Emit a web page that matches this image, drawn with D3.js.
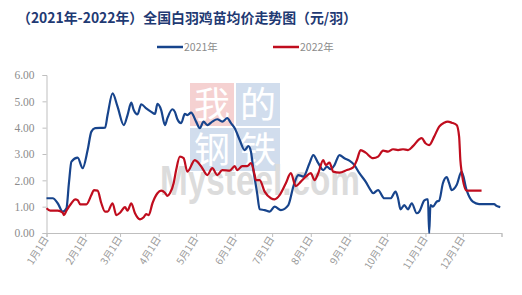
<!DOCTYPE html>
<html>
<head>
<meta charset="utf-8">
<script src="https://cdn.jsdelivr.net/npm/d3@7"></script>
<style>
  body { margin: 0; background: #fff; }
  svg { display: block; }
</style>
</head>
<body>
<div id="chart"></div>
<script>
// chart title and legend names
var title = "（2021年-2022年）全国白羽鸡苗均价走势图（元/羽）";
var seriesNames = ["2021年", "2022年"];

// month tick labels
var monthLabels = ["1月1日", "2月1日", "3月1日", "4月1日", "5月1日", "6月1日",
    "7月1日", "8月1日", "9月1日", "10月1日", "11月1日", "12月1日"];
var yTicks = [0, 1, 2, 3, 4, 5, 6];

// 2021 series (month-day, price)
var dates2021 = ["01-01", "01-06", "01-10", "01-14", "01-17", "01-19", "01-21", "01-26", "01-30",
    "02-03", "02-06", "02-09", "02-17", "02-19", "02-23", "02-27", "03-04", "03-07", "03-10",
    "03-12", "03-15", "03-18", "03-22", "03-26", "03-29", "03-31", "04-03", "04-06", "04-08",
    "04-12", "04-14", "04-16", "04-19", "04-22", "04-24", "04-27", "05-01", "05-04", "05-07",
    "05-10", "05-14", "05-18", "05-22", "05-26", "05-29", "06-01", "06-05", "06-09", "06-12",
    "06-14", "06-16", "06-19", "06-21", "06-25", "06-29", "07-03", "07-08", "07-14", "07-18",
    "07-22", "07-26", "07-31", "08-03", "08-07", "08-11", "08-14", "08-17", "08-20", "08-24",
    "08-28", "09-01", "09-05", "09-09", "09-14", "09-18", "09-20", "09-24", "09-29", "10-04",
    "10-08", "10-10", "10-12", "10-15", "10-18", "10-21", "10-25", "10-27", "10-31", "11-02",
    "11-03", "11-04", "11-05", "11-07", "11-10", "11-12", "11-15", "11-18", "11-20", "11-22",
    "11-26", "11-30", "12-04", "12-09", "12-14", "12-26", "12-28", "12-31"];
var values2021 = [1.32, 1.32, 1.13, 0.81, 0.94, 1.9, 2.71, 2.86, 2.46,
    3.15, 3.85, 3.98, 4.0, 4.48, 5.3, 4.8, 4.1, 4.48, 4.95,
    4.67, 4.5, 4.89, 4.73, 4.6, 4.52, 4.9, 4.67, 4.1, 4.36,
    4.7, 4.6, 4.32, 4.17, 4.52, 4.48, 4.57, 4.23, 3.98, 4.23,
    4.1, 4.23, 4.32, 4.23, 4.36, 4.17, 3.98, 3.53, 3.15, 3.3,
    3.09, 2.39, 1.5, 0.9, 0.87, 0.81, 1.0, 0.87, 1.06, 1.76,
    2.2, 2.14, 2.65, 2.96, 2.65, 2.39, 2.52, 2.42, 2.58, 2.96,
    2.84, 2.75, 2.58, 2.27, 1.95, 1.63, 1.51, 1.63, 1.32, 1.32,
    1.57, 1.32, 0.9, 1.06, 0.9, 1.13, 0.75, 0.81, 1.23, 1.28,
    1.28, 0, 1.06, 1.0, 1.19, 1.23, 1.89, 2.12, 1.89, 1.63,
    1.82, 2.33, 1.63, 1.19, 1.1, 1.1, 1.03, 0.98];

// 2022 series (month-day, price)
var dates2022 = ["01-01", "01-04", "01-10", "01-14", "01-15", "01-17", "01-21", "01-24", "01-26",
    "01-28", "02-02", "02-06", "02-08", "02-11", "02-14", "02-17", "02-19", "02-23", "02-26",
    "03-01", "03-05", "03-07", "03-10", "03-13", "03-17", "03-20", "03-22", "03-24", "03-27",
    "03-31", "04-03", "04-06", "04-08", "04-10", "04-13", "04-15", "04-18", "04-21", "04-24",
    "04-30", "05-02", "05-06", "05-10", "05-14", "05-18", "05-22", "05-28", "06-01", "06-03",
    "06-07", "06-11", "06-14", "06-17", "06-18", "06-21", "06-25", "06-30", "07-03", "07-07",
    "07-12", "07-16", "07-20", "07-24", "07-28", "08-01", "08-04", "08-07", "08-11", "08-13",
    "08-16", "08-19", "08-24", "08-30", "09-04", "09-07", "09-10", "09-14", "09-20", "09-24",
    "09-28", "10-02", "10-06", "10-10", "10-14", "10-18", "10-22", "10-27", "10-29", "11-01",
    "11-04", "11-08", "11-12", "11-16", "11-19", "11-22", "11-26", "11-28", "11-29", "11-30",
    "12-04", "12-16"];
var values2022 = [0.94, 0.85, 0.85, 0.77, 0.68, 0.85, 1.13, 1.28, 1.25,
    1.09, 1.09, 1.44, 1.63, 1.61, 1.13, 0.81, 0.81, 1.13, 0.68,
    0.77, 0.98, 0.85, 1.13, 0.75, 0.52, 0.6, 0.72, 0.68, 1.13,
    1.51, 1.61, 1.53, 1.41, 1.51, 1.89, 2.39, 2.9, 2.84, 2.33,
    2.77, 2.71, 2.46, 2.2, 2.46, 2.2, 2.39, 2.37, 2.54, 2.39,
    2.54, 2.54, 2.65, 2.2, 2.01, 2.01, 1.57, 1.32, 1.28, 1.44,
    1.89, 2.27, 1.78, 1.95, 2.14, 2.27, 2.01, 2.27, 2.77, 2.58,
    2.67, 2.33, 2.29, 2.39, 2.49, 2.77, 3.15, 3.05, 2.84, 2.9,
    3.13, 3.09, 3.18, 3.15, 3.18, 3.15, 3.3, 3.56, 3.6, 3.41,
    3.34, 3.66, 4.04, 4.19, 4.23, 4.19, 4.1, 3.66, 2.77, 2.33,
    1.61, 1.61];

var colors = ["#17448c", "#c00d1e"];

var width = 522, height = 295,
    plotLeft = 46.5, plotRight = 501.5, plotTop = 75, plotBottom = 233;

var svg = d3.select("#chart").append("svg")
    .attr("width", width).attr("height", height);

var parse = d3.timeParse("%Y-%m-%d");
function toDate(md) { return parse("2021-" + md); }

var x = d3.scaleTime()
    .domain([parse("2021-01-01"), parse("2022-01-01")])
    .range([plotLeft, plotRight]);
var y = d3.scaleLinear().domain([0, 6]).range([plotBottom, plotTop]);

// watermark
var wm = svg.append("g").attr("class", "watermark");
var blocks = [
    { ch: "我", col: 0, row: 0, bg: "#f3c9c9" },
    { ch: "的", col: 1, row: 0, bg: "#c9d7ea" },
    { ch: "钢", col: 0, row: 1, bg: "#c9d7ea" },
    { ch: "铁", col: 1, row: 1, bg: "#c9d7ea" }
];
wm.selectAll("rect").data(blocks).enter().append("rect")
    .attr("x", function (d) { return 190 + d.col * 46; })
    .attr("y", function (d) { return 83 + d.row * 45; })
    .attr("width", 44).attr("height", 43)
    .attr("fill", function (d) { return d.bg; })
    .attr("opacity", 0.85);
wm.selectAll("text.ch").data(blocks).enter().append("text")
    .attr("class", "ch")
    .attr("x", function (d) { return 212 + d.col * 46; })
    .attr("y", function (d) { return 118 + d.row * 45; })
    .attr("text-anchor", "middle")
    .style("font-family", "'Noto Sans CJK SC', sans-serif")
    .style("font-size", "36px")
    .style("fill", "#fff")
    .text(function (d) { return d.ch; });
wm.append("text")
    .attr("x", 160).attr("y", 195)
    .attr("textLength", 200).attr("lengthAdjust", "spacingAndGlyphs")
    .style("font-family", "'Liberation Sans', Arial, sans-serif")
    .style("font-weight", "bold")
    .style("font-size", "42px")
    .style("fill", "#dcdcdc")
    .text("Mysteel.com");

// title
svg.append("text")
    .attr("x", 17).attr("y", 23)
    .attr("textLength", 340).attr("lengthAdjust", "spacingAndGlyphs")
    .style("font-family", "'Noto Sans CJK SC', sans-serif")
    .style("font-weight", "bold")
    .style("font-size", "14px")
    .style("fill", "#1f3a73")
    .text(title);

// legend
var legend = svg.append("g");
var legendX = [157, 273];
seriesNames.forEach(function (name, i) {
    legend.append("line")
        .attr("x1", legendX[i]).attr("x2", legendX[i] + 26)
        .attr("y1", 47).attr("y2", 47)
        .attr("stroke", colors[i]).attr("stroke-width", 2.5);
    legend.append("text")
        .attr("x", legendX[i] + 27).attr("y", 51)
        .style("font-family", "'Noto Sans CJK SC', sans-serif")
        .style("font-size", "10.5px")
        .style("fill", "#8c8c8c")
        .text(name);
});

// y axis
var yAxis = svg.append("g")
    .attr("transform", "translate(" + plotLeft + ",0)")
    .call(d3.axisLeft(y).tickValues(yTicks).tickFormat(d3.format(".2f")).tickSize(4).tickPadding(8));
yAxis.select(".domain").attr("stroke", "#bfbfbf");
yAxis.selectAll(".tick line").attr("stroke", "#bfbfbf");
yAxis.selectAll("text")
    .style("font-family", "'Liberation Serif', 'DejaVu Serif', serif")
    .style("font-size", "11.5px")
    .style("fill", "#8c8c8c");

// x axis
var monthTicks = d3.timeMonth.range(parse("2021-01-01"), parse("2022-01-02"));
var xAxis = svg.append("g")
    .attr("transform", "translate(0," + plotBottom + ")")
    .call(d3.axisBottom(x).tickValues(monthTicks).tickSize(4)
        .tickFormat(function (d, i) { return monthLabels[i] || ""; }));
xAxis.select(".domain").attr("stroke", "#bfbfbf");
xAxis.selectAll(".tick line").attr("stroke", "#bfbfbf");
xAxis.selectAll("text")
    .style("font-family", "'Noto Sans CJK SC', sans-serif")
    .style("font-size", "10px")
    .style("fill", "#9a9a9a")
    .attr("text-anchor", "end")
    .attr("dy", null)
    .attr("y", 0)
    .attr("transform", "translate(2,6) rotate(-58)");

// lines
var line = d3.line()
    .x(function (d) { return x(d.date); })
    .y(function (d) { return y(d.value); })
    .curve(d3.curveMonotoneX);

var series = [
    dates2021.map(function (d, i) { return { date: toDate(d), value: values2021[i] }; }),
    dates2022.map(function (d, i) { return { date: toDate(d), value: values2022[i] }; })
];

svg.append("g").selectAll("path")
    .data(series)
    .enter().append("path")
    .attr("d", line)
    .attr("fill", "none")
    .attr("stroke", function (d, i) { return colors[i]; })
    .attr("stroke-width", 2.2)
    .attr("stroke-linejoin", "round");
</script>
</body>
</html>
